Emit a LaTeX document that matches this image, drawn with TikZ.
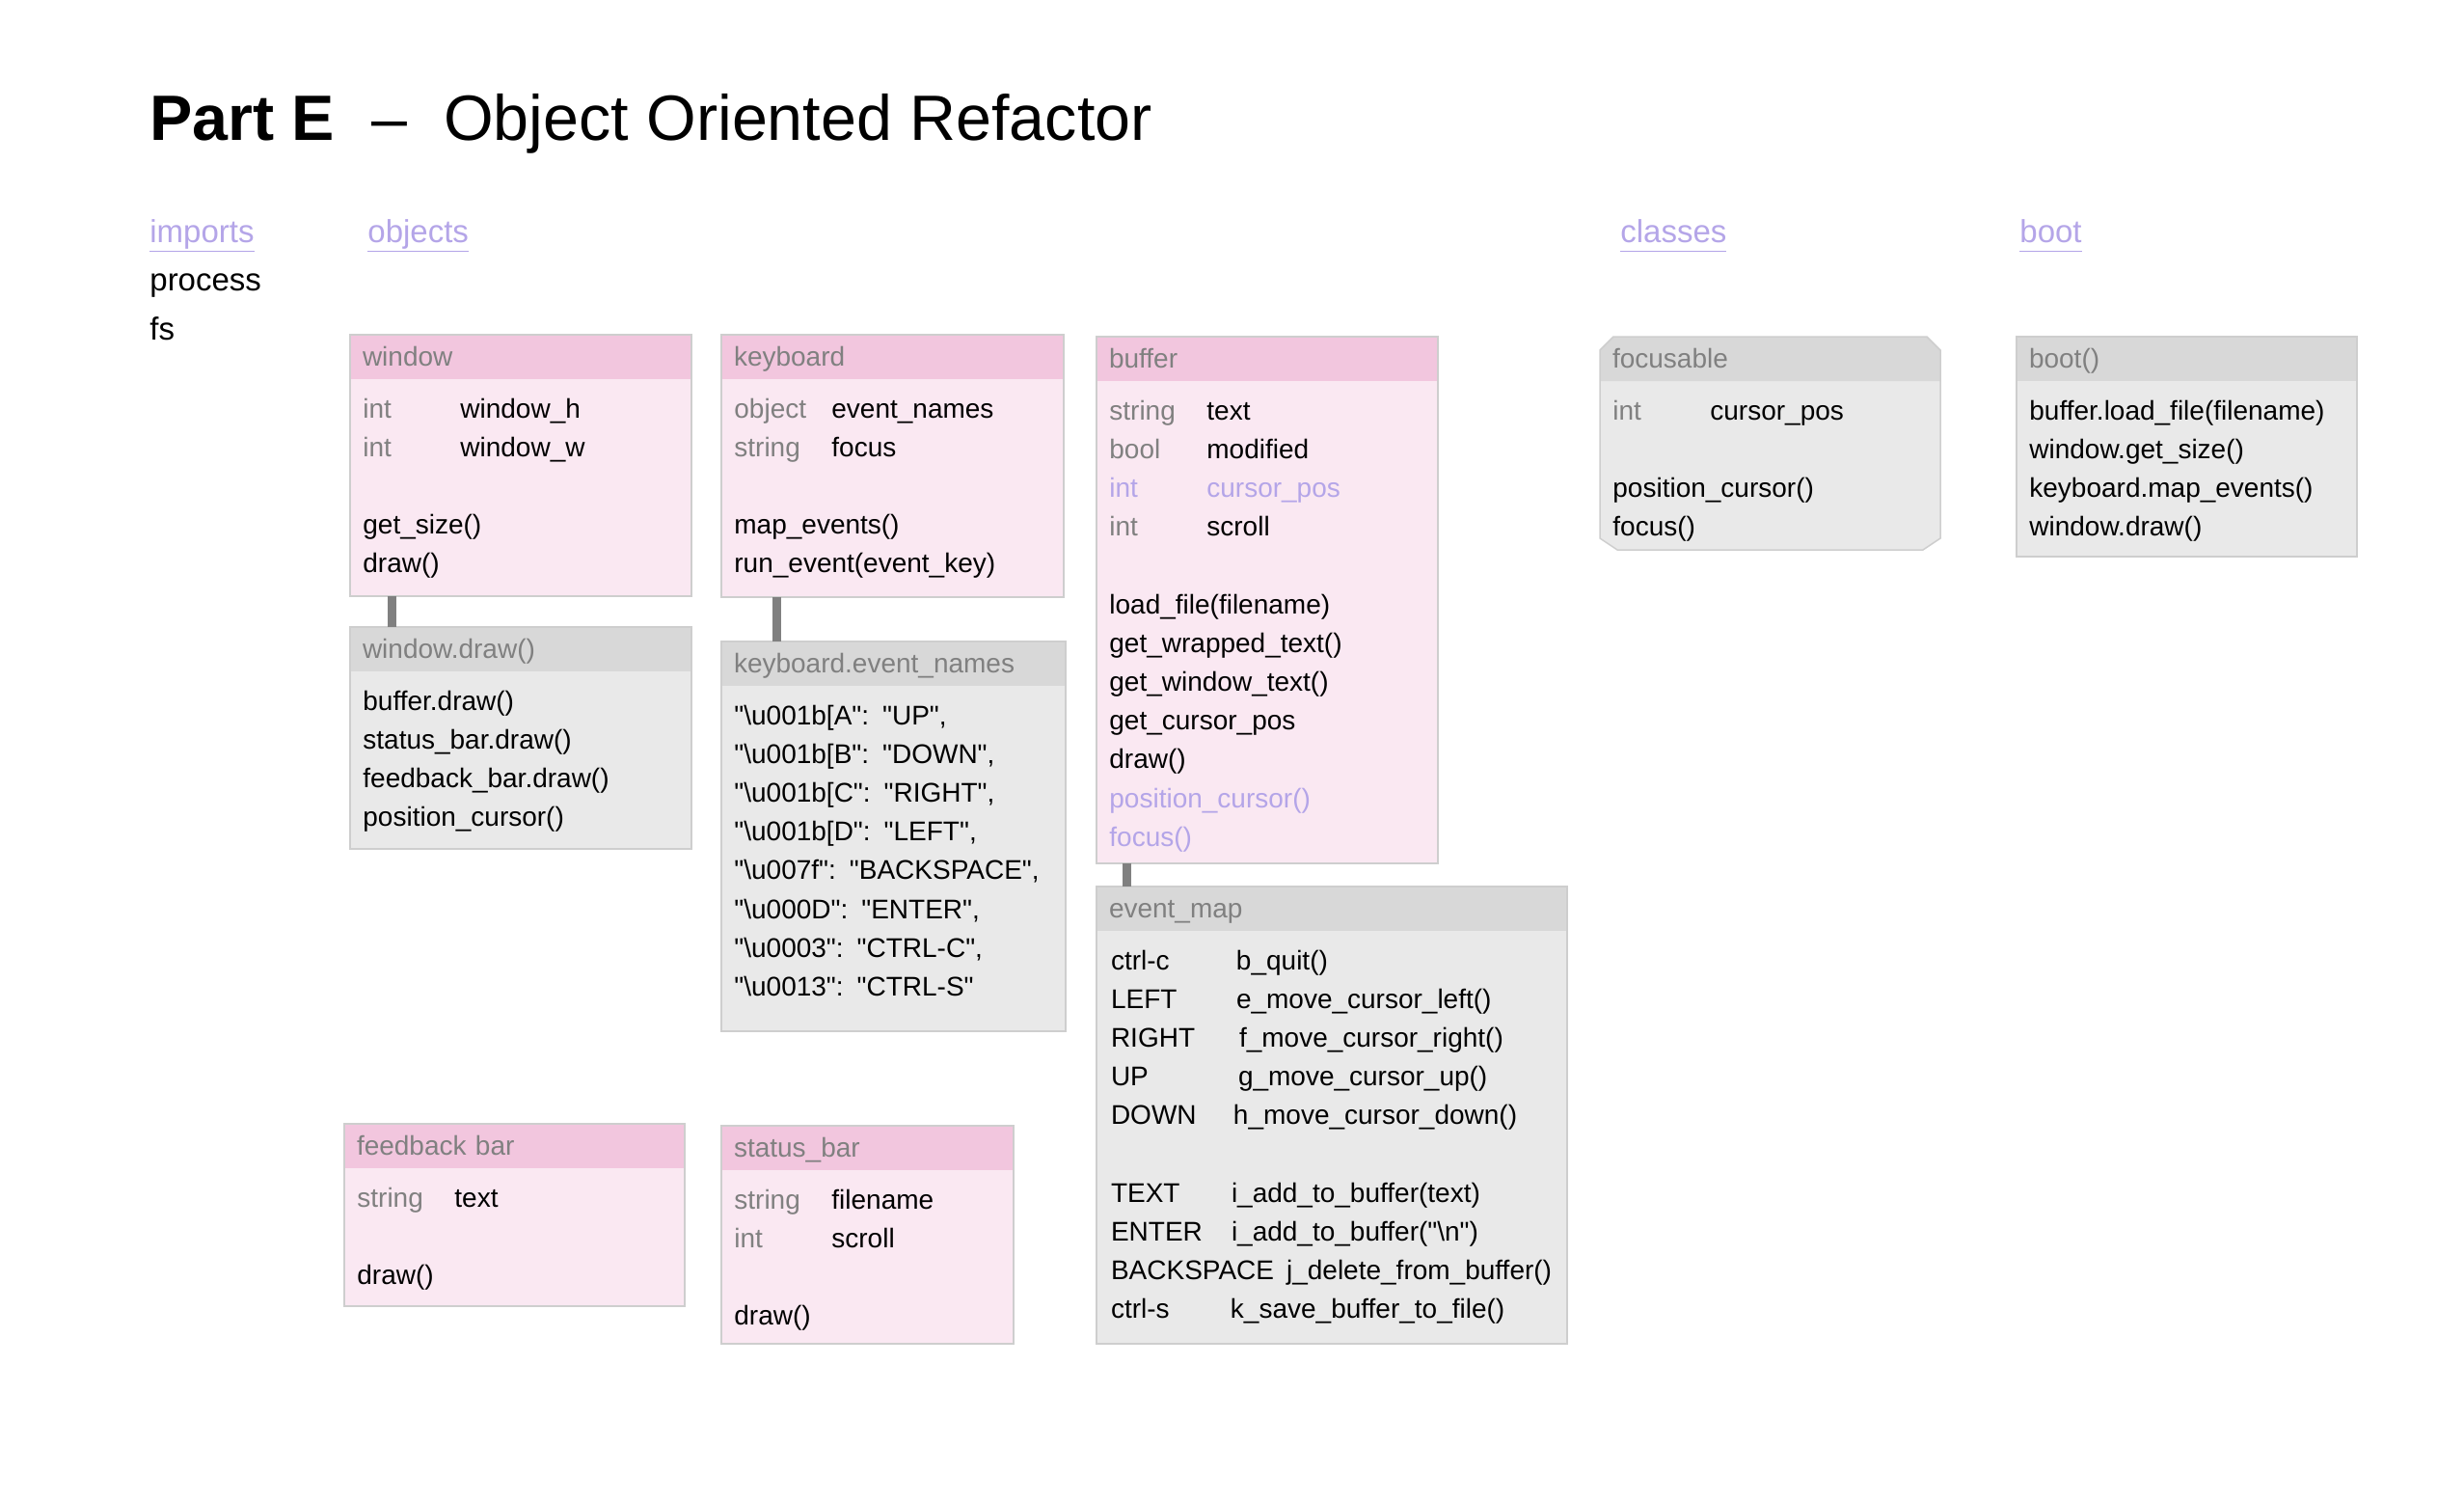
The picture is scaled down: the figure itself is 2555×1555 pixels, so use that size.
\documentclass[tikz,border=0pt]{standalone}
\usepackage{fontspec}
\setmainfont{Liberation Sans}[Ligatures=TeXOff]
\usepackage{tikz}
\usetikzlibrary{calc}

\definecolor{hpink}{RGB}{242,198,222}
\definecolor{bpink}{RGB}{250,232,242}
\definecolor{hgray}{RGB}{216,216,216}
\definecolor{bgray}{RGB}{233,233,233}
\definecolor{tgray}{RGB}{128,128,128}
\definecolor{lav}{RGB}{180,165,232}
\definecolor{edge}{RGB}{206,206,206}

\newcommand{\bodyfont}{\fontsize{14}{20.1}\selectfont}
\newcommand{\typecol}[1]{\makebox[50.5pt][l]{\color{tgray}#1}}

\tikzset{
  head/.style={rectangle, anchor=north west, inner xsep=6.5pt, inner ysep=0pt, outer sep=0pt,
    minimum height=23pt, text width=#1, align=left, text=tgray,
    text height=11.5pt, text depth=2.5pt, font=\bodyfont},
  body/.style={rectangle, anchor=north west, inner sep=0pt, outer sep=0pt, minimum width=#1},
  rows/.style={anchor=base west, inner sep=0pt, text width=240pt, align=left, font=\bodyfont},
  frame/.style={draw=edge, line width=0.75pt},
  link/.style={draw=tgray, line width=4.5pt},
  sect/.style={anchor=base west, inner sep=0pt, font=\fontsize{16.5}{20}\selectfont},
}

\begin{document}
\begin{tikzpicture}[x=0.5pt, y=-0.5pt]
    \useasboundingbox (0,0) rectangle (2555,1555);

    % title and sections
    \node[anchor=base west, inner sep=0pt, font=\fontsize{33.2}{40}\selectfont] (title) at (155,145)
        {\textbf{Part E}\hspace{19pt}–\hspace{19pt}Object Oriented Refactor};
    \node[sect, text=lav] (imports) at (155,251) {\underline{imports\vphantom{p}}};
    \node[sect] (process) at (155,301) {process};
    \node[sect] (fs) at (155,352) {fs};
    \node[sect, text=lav] (objects) at (381,251) {\underline{objects\vphantom{p}}};
    \node[sect, text=lav] (classes) at (1680,251) {\underline{classes\vphantom{p}}};
    \node[sect, text=lav] (boot) at (2094,251) {\underline{boot\vphantom{p}}};

    % window
    \node[head=164pt, fill=hpink] (window-head) at (363,347) {window};
    \node[body=177pt, minimum height=112.5pt, fill=bpink] (window) at (window-head.south west) {};
    \draw[frame] (window-head.north west) rectangle (window.south east);
    \node[rows] (window-rows) at ([shift={(6.5pt,-20pt)}]window.north west)
        {\typecol{int}window\_h\\ \typecol{int}window\_w\\[20.1pt] get\_size()\\ draw()};

    % window.draw()
    \node[head=164pt, fill=hgray] (wdraw-head) at (363,650) {window.draw()};
    \node[body=177pt, minimum height=92pt, fill=bgray] (wdraw) at (wdraw-head.south west) {};
    \draw[frame] (wdraw-head.north west) rectangle (wdraw.south east);
    \node[rows] (wdraw-rows) at ([shift={(6.5pt,-20pt)}]wdraw.north west)
        {buffer.draw()\\ status\_bar.draw()\\ feedback\_bar.draw()\\ position\_cursor()};

    % keyboard
    \node[head=164.5pt, fill=hpink] (keyboard-head) at (748,347) {keyboard};
    \node[body=177.5pt, minimum height=113pt, fill=bpink] (keyboard) at (keyboard-head.south west) {};
    \draw[frame] (keyboard-head.north west) rectangle (keyboard.south east);
    \node[rows] (keyboard-rows) at ([shift={(6.5pt,-20pt)}]keyboard.north west)
        {\typecol{object}event\_names\\ \typecol{string}focus\\[20.1pt] map\_events()\\ run\_event(event\_key)};

    % keyboard.event_names
    \node[head=165.5pt, fill=hgray] (evnames-head) at (748,665) {keyboard.event\_names};
    \node[body=178.5pt, minimum height=179pt, fill=bgray] (evnames) at (evnames-head.south west) {};
    \draw[frame] (evnames-head.north west) rectangle (evnames.south east);
    \node[rows] (evnames-rows) at ([shift={(6.5pt,-20pt)}]evnames.north west)
        {"\textbackslash u001b[A": "UP",\\
         "\textbackslash u001b[B": "DOWN",\\
         "\textbackslash u001b[C": "RIGHT",\\
         "\textbackslash u001b[D": "LEFT",\\
         "\textbackslash u007f": "BACKSPACE",\\
         "\textbackslash u000D": "ENTER",\\
         "\textbackslash u0003": "CTRL-C",\\
         "\textbackslash u0013": "CTRL-S"};

    % buffer
    \node[head=164pt, fill=hpink] (buffer-head) at (1137,349) {buffer};
    \node[body=177pt, minimum height=250pt, fill=bpink] (buffer) at (buffer-head.south west) {};
    \draw[frame] (buffer-head.north west) rectangle (buffer.south east);
    \node[rows] (buffer-rows) at ([shift={(6.5pt,-20pt)}]buffer.north west)
        {\typecol{string}text\\ \typecol{bool}modified\\
         {\color{lav}\makebox[50.5pt][l]{int}cursor\_pos}\\ \typecol{int}scroll\\[20.1pt]
         load\_file(filename)\\ get\_wrapped\_text()\\ get\_window\_text()\\ get\_cursor\_pos\\ draw()\\
         {\color{lav}position\_cursor()}\\ {\color{lav}focus()}};

    % event_map
    \node[head=231pt, fill=hgray] (evmap-head) at (1137,919) {event\_map};
    \node[body=244pt, minimum height=214pt, fill=bgray] (evmap) at (evmap-head.south west) {};
    \draw[frame] (evmap-head.north west) rectangle (evmap.south east);
    \node[rows] (evmap-rows) at ([shift={(7.3pt,-20pt)}]evmap.north west)
        {\makebox[65pt][l]{ctrl-c}b\_quit()\\
         \makebox[65pt][l]{LEFT}e\_move\_cursor\_left()\\
         \makebox[66.5pt][l]{RIGHT}f\_move\_cursor\_right()\\
         \makebox[66pt][l]{UP}g\_move\_cursor\_up()\\
         \makebox[63.5pt][l]{DOWN}h\_move\_cursor\_down()\\[20.1pt]
         \makebox[62.5pt][l]{TEXT}i\_add\_to\_buffer(text)\\
         \makebox[62.5pt][l]{ENTER}i\_add\_to\_buffer("\textbackslash n")\\
         BACKSPACE\hspace{6.5pt}j\_delete\_from\_buffer()\\
         \makebox[62pt][l]{ctrl-s}k\_save\_buffer\_to\_file()};

    % focusable
    \node[body=176.5pt, minimum height=87.5pt] (focusable) at (1659,395) {};
    \fill[bgray] ([yshift=16pt]focusable.north west) -- ([shift={(7pt,23pt)}]focusable.north west)
        -- ([shift={(-7pt,23pt)}]focusable.north east) -- ([yshift=16pt]focusable.north east)
        -- ([yshift=6pt]focusable.south east) -- ([xshift=-9pt]focusable.south east)
        -- ([xshift=9pt]focusable.south west) -- ([yshift=6pt]focusable.south west) -- cycle;
    \fill[hgray] ([yshift=16pt]focusable.north west) -- ([shift={(7pt,23pt)}]focusable.north west)
        -- ([shift={(-7pt,23pt)}]focusable.north east) -- ([yshift=16pt]focusable.north east)
        -- (focusable.north east) -- (focusable.north west) -- cycle;
    \draw[frame] ([yshift=16pt]focusable.north west) -- ([shift={(7pt,23pt)}]focusable.north west)
        -- ([shift={(-7pt,23pt)}]focusable.north east) -- ([yshift=16pt]focusable.north east)
        -- ([yshift=6pt]focusable.south east) -- ([xshift=-9pt]focusable.south east)
        -- ([xshift=9pt]focusable.south west) -- ([yshift=6pt]focusable.south west) -- cycle;
    \node[head=163.5pt, anchor=south west] (focusable-head) at (focusable.north west) {focusable};
    \node[rows] (focusable-rows) at ([shift={(6.5pt,-20pt)}]focusable.north west)
        {\typecol{int}cursor\_pos\\[20.1pt] position\_cursor()\\ focus()};

    % boot()
    \node[head=163.5pt, fill=hgray] (bootfn-head) at (2091,349) {boot()};
    \node[body=176.5pt, minimum height=91pt, fill=bgray] (bootfn) at (bootfn-head.south west) {};
    \draw[frame] (bootfn-head.north west) rectangle (bootfn.south east);
    \node[rows] (bootfn-rows) at ([shift={(6.5pt,-20pt)}]bootfn.north west)
        {buffer.load\_file(filename)\\ window.get\_size()\\ keyboard.map\_events()\\ window.draw()};

    % feedback bar
    \node[head=163.5pt, fill=hpink] (feedback-head) at (357,1165) {feedback bar};
    \node[body=176.5pt, minimum height=71.5pt, fill=bpink] (feedback) at (feedback-head.south west) {};
    \draw[frame] (feedback-head.north west) rectangle (feedback.south east);
    \node[rows] (feedback-rows) at ([shift={(6.5pt,-20pt)}]feedback.north west)
        {\typecol{string}text\\[20.1pt] draw()};

    % status_bar
    \node[head=138.5pt, fill=hpink] (status-head) at (748,1167) {status\_bar};
    \node[body=151.5pt, minimum height=90pt, fill=bpink] (status) at (status-head.south west) {};
    \draw[frame] (status-head.north west) rectangle (status.south east);
    \node[rows] (status-rows) at ([shift={(6.5pt,-20pt)}]status.north west)
        {\typecol{string}filename\\ \typecol{int}scroll\\[20.1pt] draw()};

    % links
    \draw[link] ([xshift=21.5pt]window.south west) -- ([xshift=21.5pt]wdraw-head.north west);
    \draw[link] ([xshift=28.5pt]keyboard.south west) -- ([xshift=28.5pt]evnames-head.north west);
    \draw[link] ([xshift=15.5pt]buffer.south west) -- ([xshift=15.5pt]evmap-head.north west);
\end{tikzpicture}
\end{document}
